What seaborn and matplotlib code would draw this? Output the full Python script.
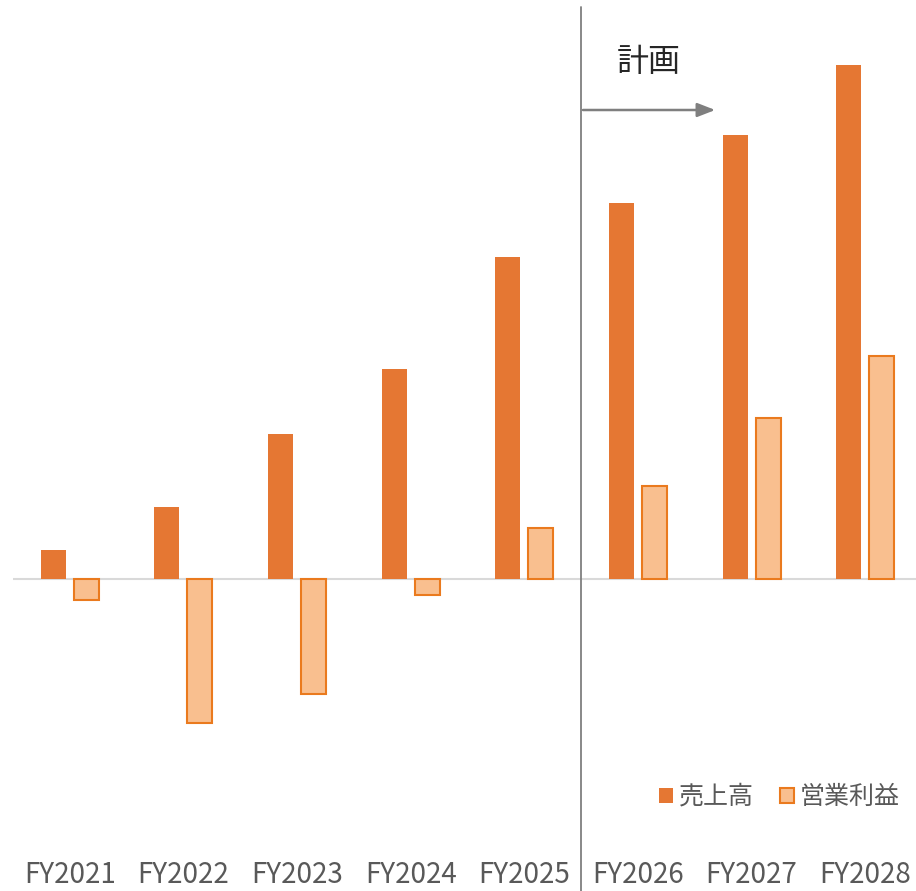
import numpy as np
import pandas as pd
import matplotlib
matplotlib.use("Agg")
import matplotlib.pyplot as plt
import seaborn as sns
from matplotlib.patches import Patch
import matplotlib.transforms as mtransforms

years = ["FY2021", "FY2022", "FY2023", "FY2024", "FY2025", "FY2026", "FY2027", "FY2028"]
sales = [29, 72, 145, 210, 322, 376, 444, 514]
profit = [-21, -144, -115, -16, 51, 93, 161, 223]
series_names = ["売上高", "営業利益"]
plan_label = "計画"

sns.set_theme(style="white")
plt.rcParams['font.family'] = ['Noto Sans CJK JP', 'DejaVu Sans']

df = pd.DataFrame({
    "year": years * 2,
    "value": sales + profit,
    "series": [series_names[0]] * len(years) + [series_names[1]] * len(years),
})

W, H = 916, 891
fig = plt.figure(figsize=(W / 100, H / 100), dpi=100)
ax_left, ax_right, ax_top, ax_bottom = 13, 916, 0, 845
ax = fig.add_axes([ax_left / W, (H - ax_bottom) / H, (ax_right - ax_left) / W, (ax_bottom - ax_top) / H])

sales_color = "#E57733"
profit_fill = "#F9BF8F"
profit_edge = "#EA7A1E"

sns.barplot(data=df, x="year", y="value", hue="series", order=years,
            hue_order=series_names, palette=[sales_color, profit_fill],
            width=0.58, gap=0.24, dodge=True, ax=ax, legend=False,
            saturation=1, errorbar=None)

for p in ax.containers[0]:
    p.set_edgecolor("none")
for p in ax.containers[1]:
    p.set_edgecolor(profit_edge)
    p.set_linewidth(1.5)

ax.set_xlim(-0.5, 7.447)
ax.set_ylim(-266, 579)
ax.axhline(0, color="#D9D9D9", lw=1.5, zorder=0.5)

for s in ax.spines.values():
    s.set_visible(False)
ax.set_yticks([])
ax.set_xlabel("")
ax.set_ylabel("")
ax.set_xticks(range(len(years)))
ax.set_xticklabels(years, fontsize=20, color="#595959")
ax.tick_params(axis="x", length=0, pad=11)

# separator line between actuals and plan
trans = mtransforms.blended_transform_factory(ax.transData, ax.transAxes)
ax.plot([4.5, 4.5], [(ax_bottom - 7) / (ax_bottom - ax_top), (ax_bottom - H) / (ax_bottom - ax_top)],
        transform=trans, color="#7F7F7F", lw=1.3, clip_on=False)

# plan arrow and label
ax.annotate("", xy=(5.68, 469), xytext=(4.516, 469),
            arrowprops=dict(arrowstyle="-|>,head_length=0.9,head_width=0.35", color="#7F7F7F", lw=1.8,
                            shrinkA=0, shrinkB=0))
ax.text(5.097, 517, plan_label, fontsize=23, color="#262626", ha="center", va="center")

handles = [Patch(facecolor=sales_color, edgecolor="none"),
           Patch(facecolor=profit_fill, edgecolor=profit_edge, linewidth=1.5)]
leg = ax.legend(handles, series_names, loc="center right", bbox_to_anchor=(900 / W, 1 - 797 / H),
                bbox_transform=fig.transFigure, ncol=2, frameon=False, fontsize=18,
                handlelength=0.55, handleheight=0.55, handletextpad=0.25, columnspacing=1.05,
                labelcolor="#595959", borderaxespad=0, borderpad=0)

fig.savefig("out.png", dpi=100)
